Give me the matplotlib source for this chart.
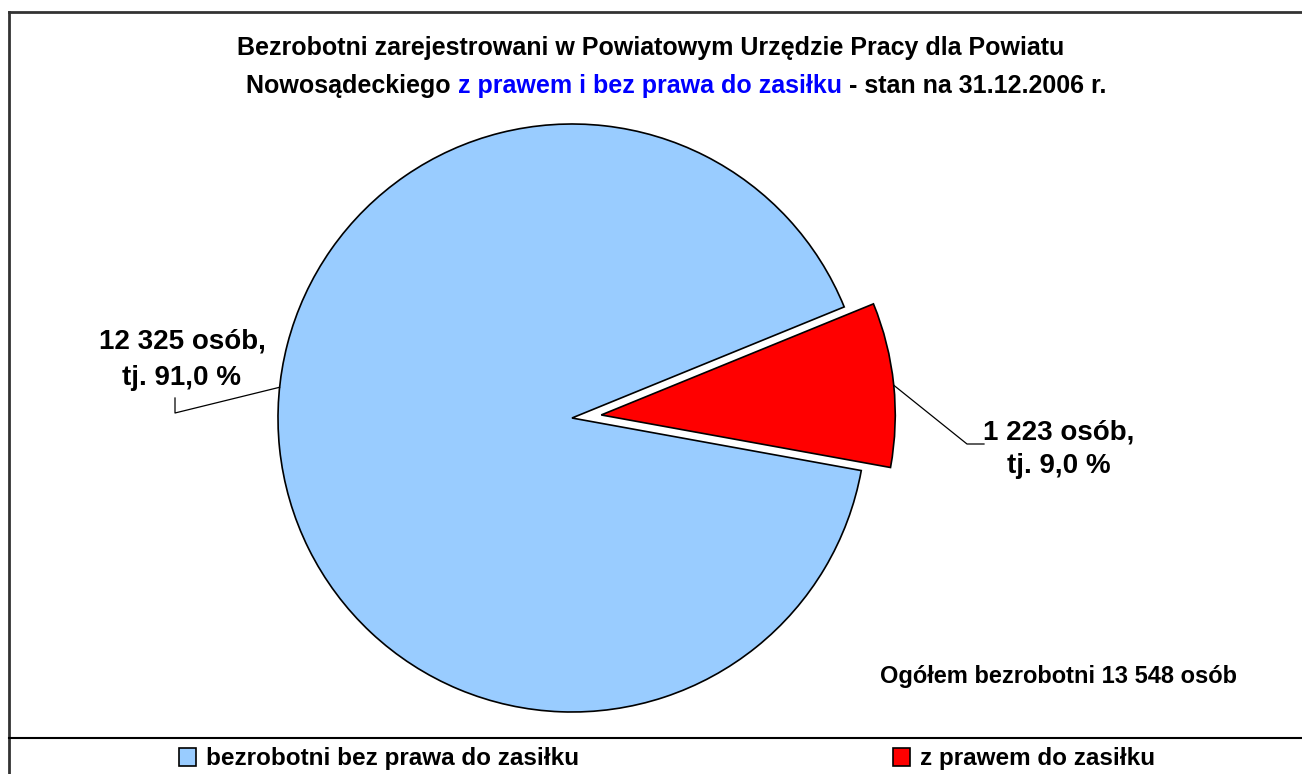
import matplotlib
matplotlib.use("Agg")
import numpy as np
import matplotlib.pyplot as plt
from matplotlib.lines import Line2D

# data
categories = ["bezrobotni bez prawa do zasiłku", "z prawem do zasiłku"]
values = [12325, 1223]
shares = [91.0, 9.0]
colors = ["#99CCFF", "#FF0000"]
total = 13548

W, H = 1302, 774
plt.rcParams['font.family'] = ['Liberation Sans', 'DejaVu Sans']
plt.rcParams['font.weight'] = 'bold'

fig = plt.figure(figsize=(W / 100, H / 100), dpi=100)


def fx(x):
    return x / W


def fy(y):
    return 1 - y / H


def num(v):
    return f"{v:,}".replace(",", " ")


def pct(v):
    return f"{v:.1f}".replace(".", ",")


# frame around the chart area + legend separator
fig.add_artist(Line2D([fx(9), fx(1310)], [fy(12), fy(12)], color="#333333", lw=2.0))
fig.add_artist(Line2D([fx(9), fx(9)], [fy(12), fy(780)], color="#333333", lw=2.0))
fig.add_artist(Line2D([fx(9), fx(1310)], [fy(738), fy(738)], color="black", lw=1.5))

# pie axes: centre (572, 418), radius 294 px
cx, cy, r = 572, 418, 294
half = 1.2 * r
ax = fig.add_axes([fx(cx - half), fy(cy + half), 2 * half / W, 2 * half / H])
wedges, _ = ax.pie(values, colors=colors, startangle=22.2, counterclock=True,
                   explode=[0, 0.1], radius=1,
                   wedgeprops=dict(edgecolor="black", linewidth=1.2))
ax.set_xlim(-1.2, 1.2)
ax.set_ylim(-1.2, 1.2)
ax.set_aspect("equal")
ax.axis("off")


def to_data(px, py):
    return (px - cx) / r, (cy - py) / r


# leader lines
a = np.deg2rad(174)
p0 = (np.cos(a), np.sin(a))
p1 = to_data(175, 413)
p2 = to_data(175, 398)
ax.plot([p0[0], p1[0], p2[0]], [p0[1], p1[1], p2[1]], color="black", lw=0.9, clip_on=False)

a = np.deg2rad(5.8)
q0 = (0.1 * np.cos(np.deg2rad(6)) + np.cos(a), 0.1 * np.sin(np.deg2rad(6)) + np.sin(a))
q1 = to_data(967, 444)
q2 = to_data(984, 444)
ax.plot([q0[0], q1[0], q2[0]], [q0[1], q1[1], q2[1]], color="black", lw=0.9, clip_on=False)

# data labels
fs_lab = 20
fig.text(fx(182), fy(360), f"{num(values[0])} osób,\ntj. {pct(shares[0])} %",
         ha="center", va="center", fontsize=fs_lab, fontweight="bold", linespacing=1.5)
fig.text(fx(1059), fy(449), f"{num(values[1])} osób,\ntj. {pct(shares[1])} %",
         ha="center", va="center", fontsize=fs_lab, fontweight="bold", linespacing=1.4)

fig.text(fx(1058), fy(676), f"Ogółem bezrobotni {num(total)} osób",
         ha="center", va="center", fontsize=17, fontweight="bold")

# title (second line in two colours)
fs_t = 18
fig.text(fx(651), fy(48), "Bezrobotni zarejestrowani w Powiatowym Urzędzie Pracy dla Powiatu",
         ha="center", va="center", fontsize=fs_t, fontweight="bold")
parts = [("Nowosądeckiego ", "black"), ("z prawem i bez prawa do zasiłku", "#0000FF"),
         (" - stan na 31.12.2006 r.", "black")]
renderer = fig.canvas.get_renderer()
texts = [fig.text(0, fy(86), s, color=c, ha="left", va="center", fontsize=fs_t, fontweight="bold")
         for s, c in parts]
widths = [t.get_window_extent(renderer).width for t in texts]
x = 676 - sum(widths) / 2
for t, w in zip(texts, widths):
    t.set_x(fx(x))
    x += w

# legend
fig.legend(wedges, categories, loc="center", bbox_to_anchor=(fx(667), fy(759)), ncol=2,
           frameon=False, handlelength=0.7, handleheight=0.7,
           handletextpad=0.4, columnspacing=12.9, prop=dict(weight="bold", size=17.5))

fig.savefig("out.png", dpi=100, facecolor="white")
